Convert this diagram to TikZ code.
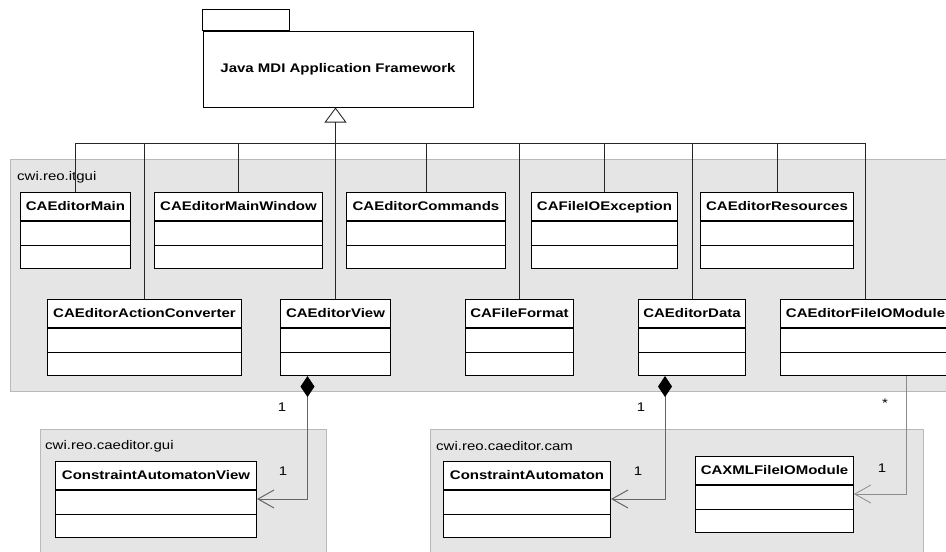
\documentclass[tikz,border=0pt]{standalone}
\usepackage{fontspec}
\setmainfont{Liberation Sans}[FakeStretch=1.2]
\usetikzlibrary{arrows.meta,positioning,calc}

% class box: name, x, y, width, label
\newcommand{\umlclass}[5]{%
	\node[clshead,minimum width=#4pt,anchor=north west] (#1) at (#2,#3) {#5};
	\node[clsbody,minimum width=#4pt,anchor=north] (#1-b) at (#1.south) {};
	\draw[clsline] ($(#1-b.north west)+(0,24)$) -- ($(#1-b.north east)+(0,24)$);
}

\begin{document}
\begin{tikzpicture}[x=1pt,y=-1pt,
	clshead/.style={draw,fill=white,line width=1pt,minimum height=28pt,inner sep=2pt,
		text height=9.5pt,text depth=2.5pt,font=\bfseries\fontsize{12.5}{14}\selectfont},
	clsbody/.style={draw,fill=white,line width=1pt,minimum height=47pt,inner sep=0pt},
	clsline/.style={line width=1pt},
	pkg/.style={fill=gray!20,draw=gray!55,line width=0.8pt},
	pkglabel/.style={anchor=west,inner sep=0pt,font=\fontsize{12.5}{14}\selectfont},
	mult/.style={inner sep=0pt,font=\fontsize{12.5}{14}\selectfont},
	gen/.style={draw=black!85,line width=0.9pt},
	comp/.style={draw=black!60,line width=1pt},
	nav/.style={draw=black!45,line width=0.8pt}]
	\clip (0,0) rectangle (946,552);
	
	% framework package
	\node[draw,line width=1pt,minimum width=270pt,minimum height=76pt,
		font=\bfseries\fontsize{12.5}{14}\selectfont] (fw) at (338,69) {Java MDI Application Framework};
	\draw[line width=1pt] (fw.north west) rectangle ++(87,-21);
	
	% packages
	\filldraw[pkg] (10,159) rectangle (960,391);
	\node[pkglabel] (itgui) at (17,177) {cwi.reo.itgui};
	\filldraw[pkg] (40,429) rectangle (326,560);
	\node[pkglabel] (guipkg) at (45,446) {cwi.reo.caeditor.gui};
	\filldraw[pkg] (430,429) rectangle (923,560);
	\node[pkglabel] (campkg) at (436,446) {cwi.reo.caeditor.cam};
	
	% classes
	\umlclass{main}{20}{192}{110}{CAEditorMain}
	\umlclass{mainwin}{154}{192}{168}{CAEditorMainWindow}
	\umlclass{commands}{346}{192}{159}{CAEditorCommands}
	\umlclass{ioexc}{531}{192}{146}{CAFileIOException}
	\umlclass{resources}{700}{192}{153}{CAEditorResources}
	\umlclass{converter}{47}{299}{194}{CAEditorActionConverter}
	\umlclass{view}{280}{299}{110}{CAEditorView}
	\umlclass{format}{465}{299}{108}{CAFileFormat}
	\umlclass{data}{638}{299}{107}{CAEditorData}
	\umlclass{iomodule}{780}{299}{170}{CAEditorFileIOModule}
	\umlclass{cav}{55}{461}{201}{ConstraintAutomatonView}
	\umlclass{ca}{443}{461}{167}{ConstraintAutomaton}
	\umlclass{xmlio}{695}{456}{158}{CAXMLFileIOModule}
	
	% generalization
	\coordinate (bus) at (335,143);
	\foreach \c in {main,mainwin,commands,ioexc,resources,converter,format,data,iomodule}
		\draw[gen] (\c.north) |- (bus);
	\draw[gen,-{Triangle[open,length=15pt,width=22pt]}] (view.north) -- (view.north |- fw.south);
	
	% composition
	\draw[comp,{Diamond[length=21pt,width=14pt,fill=black,color=black]}-{Straight Barb[length=16pt,width=18pt]}]
		([xshift=-28pt]view-b.south) |- ([yshift=-9pt]cav-b.north east);
	\draw[comp,{Diamond[length=21pt,width=14pt,fill=black,color=black]}-{Straight Barb[length=16pt,width=18pt]}]
		([xshift=-27pt]data-b.south) |- ([yshift=-9pt]ca-b.north east);
	\draw[nav,-{Straight Barb[length=16pt,width=18pt]}]
		([xshift=41pt]iomodule-b.south) |- ([yshift=-9pt]xmlio-b.north east);
	
	\node[mult] (m1) at (282,407) {1};
	\node[mult] (m2) at (283,471) {1};
	\node[mult] (m3) at (641,407) {1};
	\node[mult] (m4) at (638,471) {1};
	\node[mult] (m5) at (885,403) {*};
	\node[mult] (m6) at (882,468) {1};
\end{tikzpicture}
\end{document}
